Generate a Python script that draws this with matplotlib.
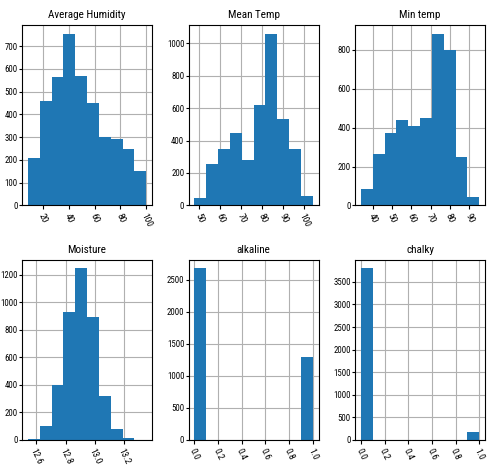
import matplotlib
matplotlib.use("Agg")
import matplotlib.pyplot as plt
from matplotlib.ticker import MultipleLocator
import numpy as np

plt.rcParams['font.family'] = ['Liberation Sans Narrow', 'Roboto Condensed',
                               'Liberation Sans', 'DejaVu Sans']

titles = ["Average Humidity", "Mean Temp", "Min temp",
          "Moisture", "alkaline", "chalky"]

# data range (min, max) of each column, 10 equal bins in between
ranges = [(8.5, 100.0), (47.6, 104.0), (34.0, 95.0),
          (12.543, 13.35), (0.0, 1.0), (0.0, 1.0)]

hum_counts = [210, 460, 566, 755, 570, 452, 301, 294, 250, 153]
mean_counts = [43, 254, 350, 449, 277, 621, 1059, 535, 350, 55]
min_counts = [82, 263, 371, 441, 407, 448, 884, 802, 251, 41]
moist_counts = [10, 101, 398, 927, 1250, 893, 319, 82, 12, 1]
alk_counts = [2680, 0, 0, 0, 0, 0, 0, 0, 0, 1300]
chalk_counts = [3805, 0, 0, 0, 0, 0, 0, 0, 0, 178]
counts = [hum_counts, mean_counts, min_counts,
          moist_counts, alk_counts, chalk_counts]

xticks = [[20, 40, 60, 80, 100],
          [50, 60, 70, 80, 90, 100],
          [40, 50, 60, 70, 80, 90],
          [12.6, 12.8, 13.0, 13.2],
          [0.0, 0.2, 0.4, 0.6, 0.8, 1.0],
          [0.0, 0.2, 0.4, 0.6, 0.8, 1.0]]
ysteps = [100, 200, 200, 200, 500, 500]

fig, axes = plt.subplots(2, 3, figsize=(4.9, 4.72), dpi=100)
fig.subplots_adjust(left=0.045, right=0.990, bottom=0.068, top=0.947,
                    wspace=0.28, hspace=0.30)

for ax, title, rng, cnt, xt, ys in zip(axes.flat, titles, ranges, counts,
                                       xticks, ysteps):
    edges = np.linspace(rng[0], rng[1], 11)
    ax.hist(edges[:-1], bins=edges, weights=cnt, color="#1f77b4", zorder=2)
    ax.set_title(title, fontsize=8, pad=5)
    ax.grid(True, color="#b0b0b0", linewidth=0.8, zorder=0)
    ax.set_axisbelow(True)
    ax.set_xticks(xt)
    if isinstance(xt[0], float):
        ax.set_xticklabels(["{:.1f}".format(v) for v in xt])
    ax.yaxis.set_major_locator(MultipleLocator(ys))
    ax.tick_params(axis="y", labelsize=6.3, length=2, pad=1)
    ax.tick_params(axis="x", labelsize=6.8, length=3, pad=2)
    plt.setp(ax.get_xticklabels(), rotation=-65)

fig.savefig("out.png", dpi=100)
